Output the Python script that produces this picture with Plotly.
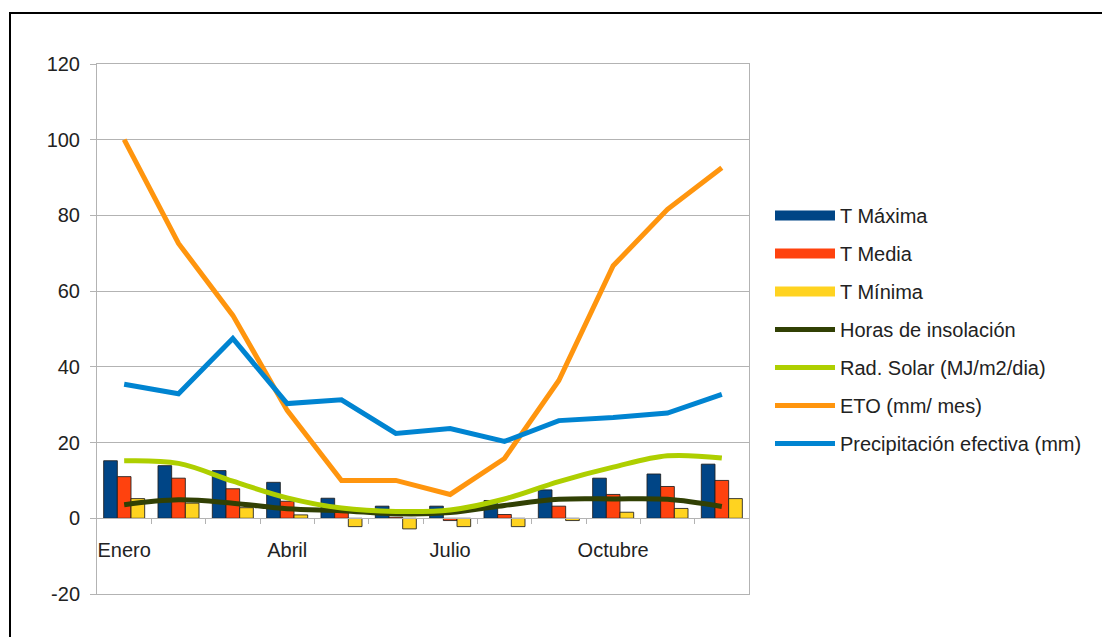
import plotly.graph_objects as go

months = ["Enero", "Febrero", "Marzo", "Abril", "Mayo", "Junio", "Julio",
          "Agosto", "Septiembre", "Octubre", "Noviembre", "Diciembre"]
t_max = [15.2, 13.9, 12.6, 9.5, 5.3, 3.2, 3.2, 4.7, 7.5, 10.6, 11.7, 14.3]
t_media = [11.0, 10.6, 7.8, 4.5, 2.5, 0.3, -0.6, 1.0, 3.2, 6.3, 8.4, 10.0]
t_min = [5.2, 4.0, 2.8, 0.9, -2.2, -2.8, -2.2, -2.2, -0.6, 1.6, 2.6, 5.2]
horas = [3.6, 4.9, 4.0, 2.5, 2.0, 1.2, 1.5, 3.4, 5.0, 5.1, 5.0, 3.1]
rad_solar = [15.2, 14.5, 9.8, 5.4, 2.7, 1.8, 2.2, 5.1, 9.7, 13.5, 16.5, 15.9]
eto = [100, 72.6, 53.6, 28.5, 10.0, 10.0, 6.3, 15.8, 36.4, 66.7, 81.6, 92.6]
precip = [35.4, 32.9, 47.5, 30.3, 31.3, 22.4, 23.7, 20.3, 25.8, 26.6, 27.8, 32.7]
label_months = [0, 3, 6, 9]
y_ticks = [-20, 0, 20, 40, 60, 80, 100, 120]

x_pos = list(range(len(months)))
FONT = "Liberation Sans, Arial, sans-serif"
GRID = "#b3b3b3"
TXT = "#222222"

fig = go.Figure()

bar_series = [("T Máxima", t_max, "#004586"),
              ("T Media", t_media, "#ff420e"),
              ("T Mínima", t_min, "#ffd320")]
for i, (name, vals, col) in enumerate(bar_series):
    fig.add_trace(go.Bar(x=x_pos, y=vals, name=name, marker_color=col,
                         marker_line=dict(color="rgba(30,30,30,0.85)", width=1),
                         legendgroup="g%d" % i, showlegend=False, customdata=months,
                         hovertemplate="%{customdata}: %{y}<extra>" + name + "</extra>"))
    # legend entry drawn as a wide block, like the original legend
    fig.add_trace(go.Scatter(x=[None], y=[None], name=name, mode="lines",
                             line=dict(color=col, width=10),
                             legendgroup="g%d" % i, hoverinfo="skip"))

line_series = [("Horas de insolación", horas, "#314004", "spline"),
               ("Rad. Solar (MJ/m2/dia)", rad_solar, "#aecf00", "spline"),
               ("ETO (mm/ mes)", eto, "#ff950e", "linear"),
               ("Precipitación efectiva (mm)", precip, "#0084d1", "linear")]
for j, (name, vals, col, shape) in enumerate(line_series):
    fig.add_trace(go.Scatter(x=x_pos, y=vals, name=name, mode="lines",
                             line=dict(color=col, width=5, shape=shape, smoothing=1),
                             legendgroup="l%d" % j, customdata=months,
                             hovertemplate="%{customdata}: %{y}<extra>" + name + "</extra>"))

# dummy traces so the overlay axes (zero line, frame) are drawn
fig.add_trace(go.Scatter(x=[None], y=[None], xaxis="x2", showlegend=False,
                         hoverinfo="skip"))
fig.add_trace(go.Scatter(x=[None], y=[None], xaxis="x3", showlegend=False,
                         hoverinfo="skip"))

OFF = 8  # page body margin
W, H = 1102, 629
L, R, T, B = 89, 361, 56, 43
pw, ph = W - L - R, H - T - B

def px_x(p):
    return (p - OFF - L) / pw

def px_y(p):
    return (H - B - (p - OFF)) / ph

ymin, ymax = -20, 120
xr = [-0.5, len(months) - 0.5]

fig.update_layout(
    width=W, height=H,
    margin=dict(l=L, r=R, t=T, b=B),
    paper_bgcolor="white", plot_bgcolor="white",
    font=dict(family=FONT, size=20, color=TXT),
    barmode="group", bargap=0.245, bargroupgap=0,
    showlegend=True,
    legend=dict(x=px_x(770), xanchor="left", y=px_y(196), yanchor="top",
                font=dict(size=20, family=FONT, color=TXT),
                tracegroupgap=9, traceorder="grouped", itemwidth=60,
                bgcolor="rgba(0,0,0,0)"),
    xaxis=dict(range=xr, anchor="free", position=px_y(536),
               showgrid=False, zeroline=False, showline=False, ticks="",
               tickvals=label_months, ticktext=[months[i] for i in label_months],
               tickfont=dict(size=20, family=FONT, color=TXT)),
    xaxis2=dict(overlaying="x", anchor="free",
                position=(0 - ymin) / (ymax - ymin), range=xr,
                showgrid=False, zeroline=False, showline=True,
                linecolor=GRID, linewidth=1, ticks="outside", ticklen=5,
                tickcolor=GRID, tickvals=[i + 0.5 for i in range(len(months) - 1)],
                showticklabels=False),
    xaxis3=dict(overlaying="x", anchor="y", side="bottom", range=xr,
                showgrid=False, zeroline=False, showline=True, mirror=True,
                linecolor=GRID, linewidth=1, ticks="", showticklabels=False),
    yaxis=dict(range=[ymin, ymax], tickvals=y_ticks,
               ticktext=[str(v) for v in y_ticks], showgrid=True, gridcolor=GRID,
               zeroline=False, showline=True, mirror=True, linecolor=GRID,
               ticks="outside", ticklen=6, tickcolor=GRID, ticklabelstandoff=6,
               tickfont=dict(size=20, family=FONT, color=TXT)),
    shapes=[dict(type="rect", xref="paper", yref="paper",
                 x0=px_x(10), x1=px_x(1130), y0=px_y(660), y1=px_y(13),
                 line=dict(color="black", width=2), fillcolor="rgba(0,0,0,0)",
                 layer="below")],
)

fig.write_html("out.html")
